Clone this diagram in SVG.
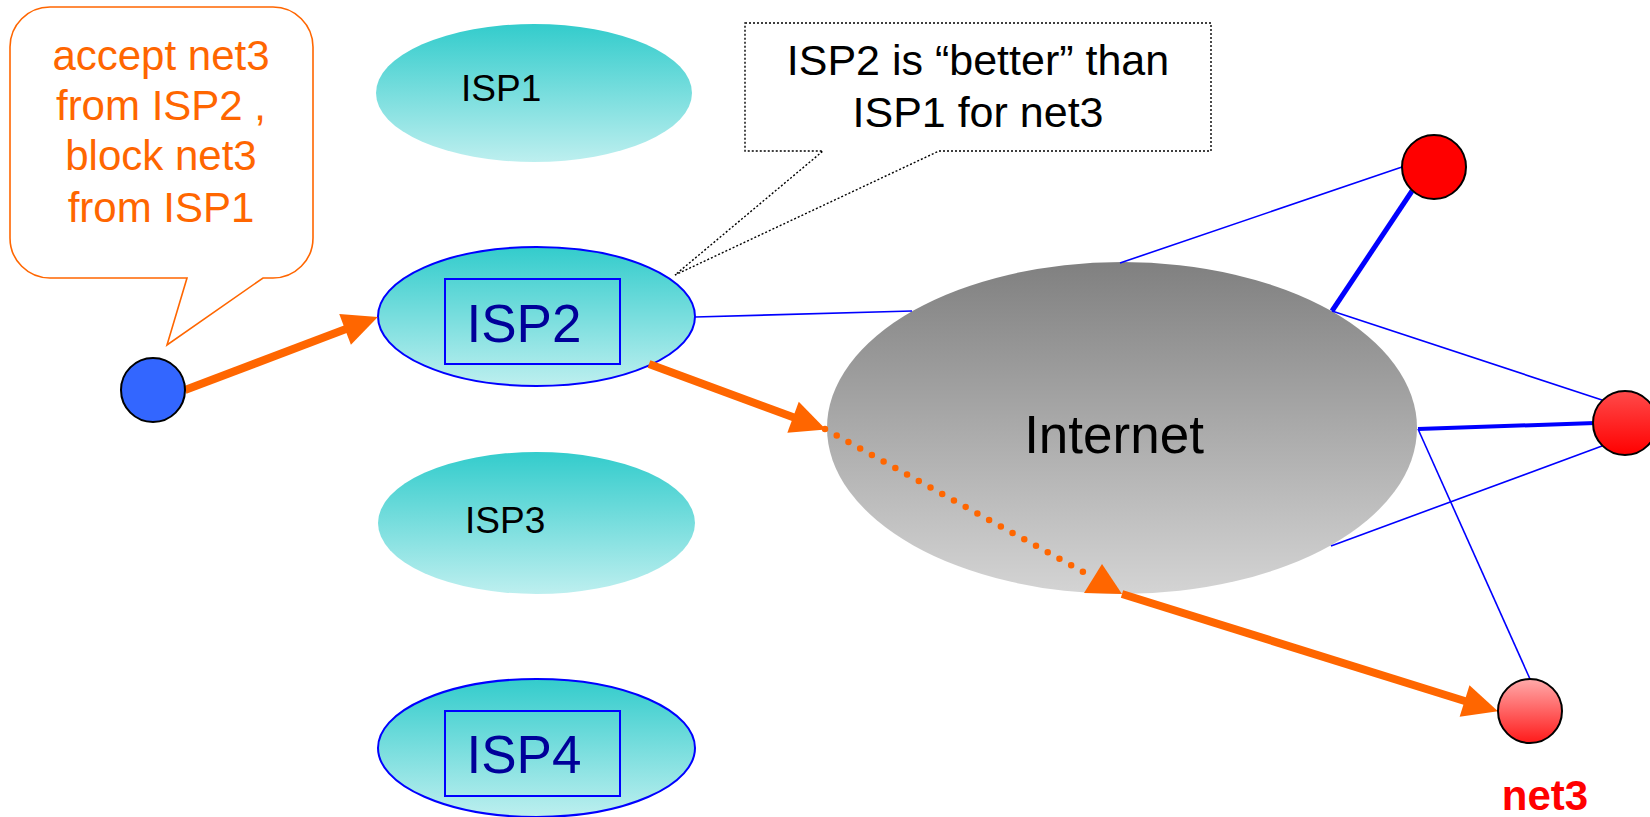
<svg xmlns="http://www.w3.org/2000/svg" width="1650" height="817" viewBox="0 0 1650 817">
  <defs>
    <linearGradient id="gradIsp" x1="0" y1="0" x2="0" y2="1">
      <stop offset="0" stop-color="#33CCCC"/>
      <stop offset="1" stop-color="#BDEFEF"/>
    </linearGradient>
    <linearGradient id="gradNet" x1="0" y1="0" x2="0" y2="1">
      <stop offset="0" stop-color="#808080"/>
      <stop offset="1" stop-color="#D4D4D4"/>
    </linearGradient>
    <linearGradient id="gradRed" x1="0" y1="0" x2="0" y2="1">
      <stop offset="0" stop-color="#FF4A4A"/>
      <stop offset="1" stop-color="#FF0000"/>
    </linearGradient>
    <linearGradient id="gradPink" x1="0" y1="0" x2="0" y2="1">
      <stop offset="0" stop-color="#FFAAAA"/>
      <stop offset="1" stop-color="#FF1A1A"/>
    </linearGradient>
    <marker id="arrowOrange" markerUnits="userSpaceOnUse" markerWidth="36" markerHeight="34" refX="1" refY="16.5" orient="auto" overflow="visible">
      <path d="M0,0 L35,16.5 L0,33 Z" fill="#FF6600"/>
    </marker>
  </defs>
  <style>
    text { font-family: "Liberation Sans", Arial, sans-serif; }
    .isp { fill: url(#gradIsp); }
    .isp-sel { fill: url(#gradIsp); stroke: #0000FF; stroke-width: 2; }
    .isp-box { fill: none; stroke: #0000FF; stroke-width: 2; }
    .isp-big { font-size: 53px; fill: #000099; text-anchor: middle; }
    .isp-small { font-size: 37px; fill: #000000; }
    .host { stroke: #000000; stroke-width: 2; }
    .link { stroke: #0000FF; stroke-width: 1.6; fill: none; }
    .link-thick { stroke: #0000FF; stroke-width: 5; fill: none; }
    .link-mid { stroke: #0000FF; stroke-width: 4; fill: none; }
    .route { stroke: #FF6600; stroke-width: 8; fill: none; }
    .route-dots { stroke: #FF6600; stroke-width: 6.5; stroke-linecap: round; stroke-dasharray: 0 13.4; fill: none; }
    .note { font-size: 42px; fill: #FF6600; text-anchor: middle; }
    .callout { font-size: 43px; fill: #000000; text-anchor: middle; }
  </style>

  <!-- ISP clouds -->
  <g id="isp1">
    <ellipse class="isp" cx="534" cy="93" rx="158" ry="69"/>
    <text class="isp-small" x="461" y="101">ISP1</text>
  </g>
  <g id="isp2">
    <ellipse class="isp-sel" cx="536.5" cy="316.5" rx="158.5" ry="69.5"/>
    <rect class="isp-box" x="445" y="279" width="175" height="85"/>
    <text class="isp-big" x="524" y="342">ISP2</text>
  </g>
  <g id="isp3">
    <ellipse class="isp" cx="536.5" cy="523" rx="158.5" ry="71"/>
    <text class="isp-small" x="465" y="533">ISP3</text>
  </g>
  <g id="isp4">
    <ellipse class="isp-sel" cx="536.5" cy="748" rx="158.5" ry="69"/>
    <rect class="isp-box" x="445" y="711" width="175" height="85"/>
    <text class="isp-big" x="524" y="773">ISP4</text>
  </g>

  <!-- Internet core -->
  <g id="internet">
    <ellipse cx="1122" cy="428" rx="295" ry="166" fill="url(#gradNet)"/>
    <text x="1114" y="453" font-size="53" text-anchor="middle" fill="#000000">Internet</text>
  </g>

  <!-- links and routes -->
  <g id="connectors">
    <line class="link" x1="695" y1="317" x2="912" y2="311"/>
    <line class="link" x1="1120" y1="263" x2="1402" y2="167"/>
    <line class="link-thick" x1="1332" y1="311" x2="1412" y2="191"/>
    <line class="link" x1="1332" y1="311" x2="1602" y2="400"/>
    <line class="link-mid" x1="1418" y1="429" x2="1595" y2="423"/>
    <line class="link" x1="1331" y1="546" x2="1602" y2="446"/>
    <line class="link" x1="1418" y1="429" x2="1530" y2="679"/>

    <line class="route" x1="185" y1="390" x2="346" y2="329" marker-end="url(#arrowOrange)"/>
    <line class="route" x1="649" y1="364" x2="794" y2="417.6" marker-end="url(#arrowOrange)"/>
    <line class="route-dots" x1="825" y1="429" x2="1085" y2="573"/>
    <polygon points="1102,564 1084,593 1122,594" fill="#FF6600"/>
    <line class="route" x1="1122" y1="594" x2="1465.5" y2="701.2" marker-end="url(#arrowOrange)"/>
  </g>

  <!-- hosts -->
  <g id="source">
    <circle class="host" cx="153" cy="390" r="32" fill="#3366FF"/>
  </g>
  <g id="router-top">
    <circle class="host" cx="1434" cy="167" r="32" fill="#FF0000"/>
  </g>
  <g id="router-right">
    <circle class="host" cx="1625" cy="423" r="32" fill="url(#gradRed)"/>
  </g>
  <g id="net3">
    <circle class="host" cx="1530" cy="711" r="32" fill="url(#gradPink)"/>
    <text x="1545" y="810" font-size="42" font-weight="bold" text-anchor="middle" fill="#FF0000">net3</text>
  </g>

  <!-- policy note -->
  <g id="policy-note">
    <path d="M50,7 H273 A40,40 0 0 1 313,47 V238 A40,40 0 0 1 273,278 H263 L167,345 L187,278 H50 A40,40 0 0 1 10,238 V47 A40,40 0 0 1 50,7 Z" fill="#FFFFFF" stroke="#FF6600" stroke-width="1.6"/>
    <text class="note" x="161" y="70">accept net3</text>
    <text class="note" x="161" y="120">from ISP2 ,</text>
    <text class="note" x="161" y="170">block net3</text>
    <text class="note" x="161" y="222">from ISP1</text>
  </g>

  <!-- preference callout -->
  <g id="preference-callout">
    <path d="M745,23 H1211 V151 H939 L675,275 L823,151 H745 Z" fill="#FFFFFF" stroke="#000000" stroke-width="1.4" stroke-dasharray="2 2"/>
    <text class="callout" x="978" y="75">ISP2 is “better” than</text>
    <text class="callout" x="978" y="127">ISP1 for net3</text>
  </g>
</svg>
